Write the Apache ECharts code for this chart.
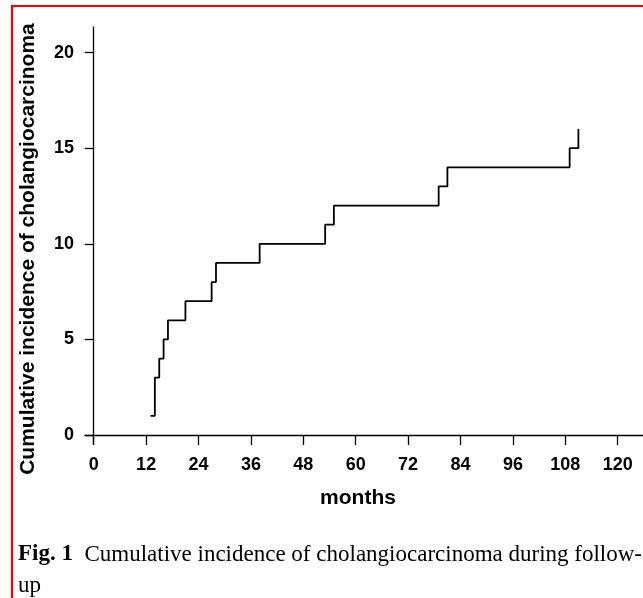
<!DOCTYPE html>
<html>
<head>
<meta charset="utf-8">
<script src="https://cdn.jsdelivr.net/npm/echarts@6/dist/echarts.min.js"></script>
<style>
  html, body { margin: 0; padding: 0; background: #fff; }
  #main { width: 643px; height: 598px; }
</style>
</head>
<body>
<div id="main"></div>
<script>
// event times (months) and cumulative number of cases
var eventMonths = [13, 14, 15, 16, 17, 21, 27, 28, 38, 53, 55, 79, 81, 109, 111];
var cumCases = [1, 3, 4, 5, 6, 7, 8, 9, 10, 11, 12, 13, 14, 15, 16];
var xTicks = [0, 12, 24, 36, 48, 60, 72, 84, 96, 108, 120];
var yTicks = [0, 5, 10, 15, 20];

var stepData = [];
for (var i = 0; i < eventMonths.length; i++) {
    stepData.push([eventMonths[i], cumCases[i]]);
}

var chart = echarts.init(document.getElementById('main'));
var option = {
    animation: false,
    backgroundColor: '#fff',
    grid: {
        left: 85,
        right: 0,
        top: 27,
        bottom: 154,
        containLabel: false
    },
    xAxis: {
        type: 'value',
        min: -2,
        max: 125.8,
        axisLine: { onZero: true, lineStyle: { color: '#000', width: 1.3 } },
        axisTick: {
            show: true,
            customValues: xTicks,
            length: 10,
            lineStyle: { color: '#000', width: 1.3 }
        },
        axisLabel: {
            customValues: xTicks,
            color: '#000',
            fontFamily: 'Liberation Sans',
            fontWeight: 'bold',
            fontSize: 18,
            margin: 12
        },
        splitLine: { show: false }
    },
    yAxis: {
        type: 'value',
        min: -0.47,
        max: 21.34,
        axisLine: { show: true, onZero: true, lineStyle: { color: '#000', width: 1.3 } },
        axisTick: {
            show: true,
            customValues: yTicks,
            length: 9,
            lineStyle: { color: '#000', width: 1.3 }
        },
        axisLabel: {
            customValues: yTicks,
            color: '#000',
            fontFamily: 'Liberation Sans',
            fontWeight: 'bold',
            fontSize: 18,
            margin: 11
        },
        splitLine: { show: false }
    },
    graphic: [
        {
            type: 'rect',
            shape: { x: 12, y: 6, width: 700, height: 700 },
            style: { fill: 'none', stroke: '#ff0000', lineWidth: 2.2 },
            silent: true
        },
        {
            type: 'text',
            x: 28,
            y: 249,
            rotation: Math.PI / 2,
            style: {
                text: 'Cumulative incidence of cholangiocarcinoma',
                fill: '#000',
                font: 'bold 21px "Liberation Sans"',
                textAlign: 'center',
                textVerticalAlign: 'middle'
            }
        },
        {
            type: 'text',
            x: 358,
            y: 498,
            style: {
                text: 'months',
                fill: '#000',
                font: 'bold 21px "Liberation Sans"',
                textAlign: 'center',
                textVerticalAlign: 'middle'
            }
        },
        {
            type: 'text',
            x: 18,
            y: 539,
            style: {
                text: '{b|Fig. 1}  Cumulative incidence of cholangiocarcinoma during follow-\nup',
                fill: '#000',
                font: '23px "Liberation Serif"',
                lineHeight: 31,
                rich: {
                    b: { font: 'bold 23px "Liberation Serif"', fill: '#000', lineHeight: 31 }
                }
            }
        }
    ],
    series: [
        {
            type: 'line',
            step: 'end',
            data: stepData,
            symbol: 'none',
            lineStyle: { color: '#000', width: 1.8 }
        }
    ]
};
chart.setOption(option);
</script>
</body>
</html>
